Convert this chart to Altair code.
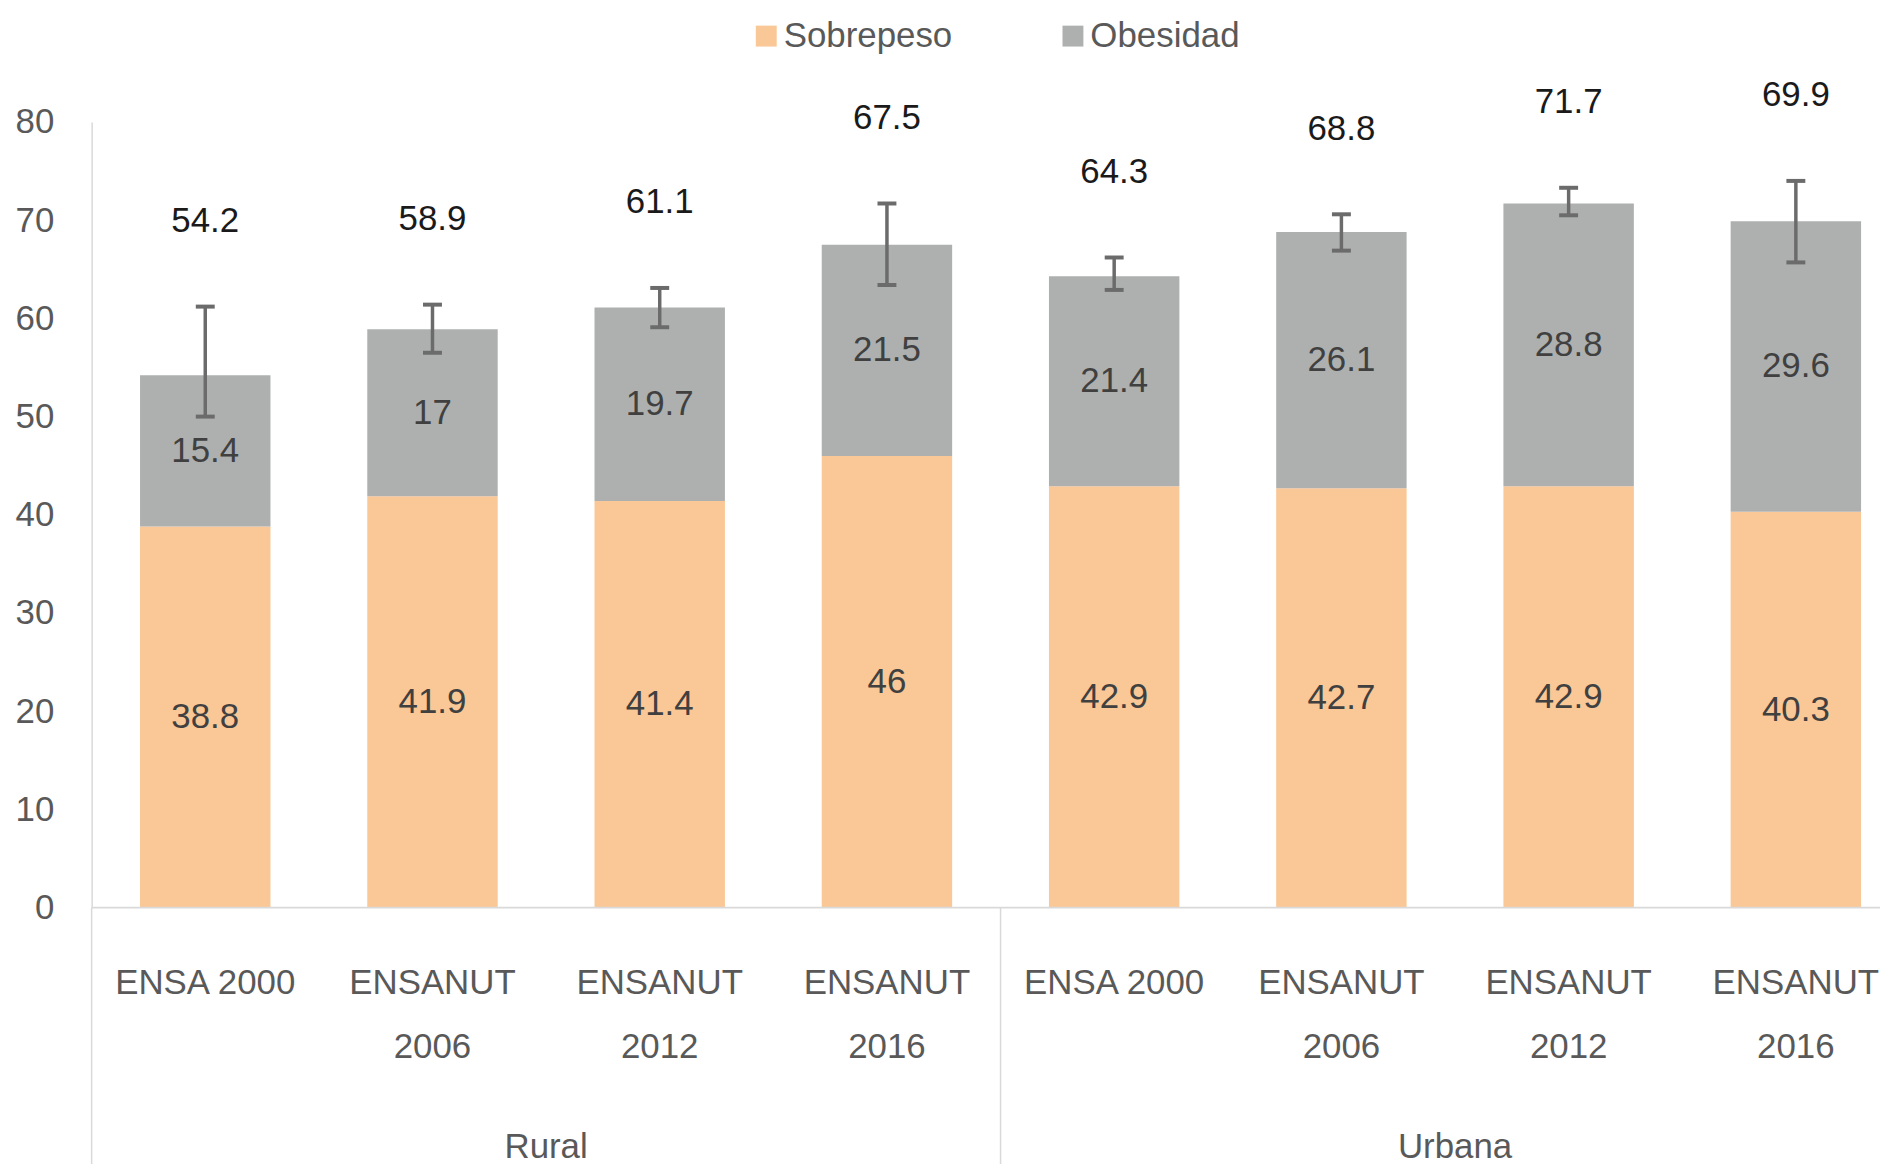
import altair as alt
import pandas as pd

# ---- data ----
keys = ["R0", "R1", "R2", "R3", "U0", "U1", "U2", "U3"]
groups = ["Rural", "Rural", "Rural", "Rural", "Urbana", "Urbana", "Urbana", "Urbana"]
line1 = ["ENSA 2000", "ENSANUT", "ENSANUT", "ENSANUT",
         "ENSA 2000", "ENSANUT", "ENSANUT", "ENSANUT"]
line2 = ["", "2006", "2012", "2016", "", "2006", "2012", "2016"]
sobrepeso = [38.8, 41.9, 41.4, 46.0, 42.9, 42.7, 42.9, 40.3]
obesidad = [15.4, 17.0, 19.7, 21.5, 21.4, 26.1, 28.8, 29.6]
totals = [54.2, 58.9, 61.1, 67.5, 64.3, 68.8, 71.7, 69.9]
err_low = [50.0, 56.5, 59.1, 63.4, 62.9, 66.9, 70.5, 65.7]
err_high = [61.2, 61.4, 63.1, 71.7, 66.2, 70.6, 73.3, 74.0]
series_names = ["Sobrepeso", "Obesidad"]
series_colors = ["#FAC796", "#AEB0AF"]
y_ticks = [0, 10, 20, 30, 40, 50, 60, 70, 80]
group_names = ["Rural", "Urbana"]
group_anchor = ["R1", "U1"]

def fmt(v):
    return f"{v:g}"

seg_rows = []
for i, k in enumerate(keys):
    s, o = sobrepeso[i], obesidad[i]
    seg_rows.append({"key": k, "series": "Sobrepeso", "order": 0,
                     "start": 0.0, "end": s, "mid": s / 2, "label": fmt(s)})
    seg_rows.append({"key": k, "series": "Obesidad", "order": 1,
                     "start": s, "end": s + o, "mid": s + o / 2, "label": fmt(o)})
df_seg = pd.DataFrame(seg_rows)

df_cat = pd.DataFrame({
    "key": keys, "group": groups, "line1": line1, "line2": line2,
    "total": totals, "total_label": [fmt(t) for t in totals],
    "lo": err_low, "hi": err_high,
})
df_grp = pd.DataFrame({"key": group_anchor, "group": group_names})
df_left = pd.DataFrame({"key": [keys[0]]})
df_sep = pd.DataFrame({"key": [keys[3], keys[7]]})
df_one = pd.DataFrame({"a": [0]})

# ---- layout ----
W, H = 1796, 789
STEP = 228.2
RANGE = STEP * len(keys)
PI = 0.426
PO = PI / 2
GAP_HALF = PI * STEP / 2          # half of the gap between two bars
OUTER = PO * STEP                 # outer padding in pixels

FONT = "Liberation Sans"
FS = 35
AXIS_GRAY = "#595959"
LINE_GRAY = "#D9D9D9"

xscale = alt.Scale(domain=keys, range=[0, RANGE], paddingInner=PI, paddingOuter=PO)
yscale = alt.Scale(domain=[0, 80], nice=False, zero=True)
yaxis = alt.Axis(values=y_ticks, ticks=False, grid=False, title=None,
                 domainColor=LINE_GRAY, domainWidth=1.5,
                 labelFont=FONT, labelFontSize=FS, labelColor=AXIS_GRAY,
                 labelPadding=38)

def X(**kw):
    return alt.X("key:N", scale=xscale, axis=None, **kw)

def Y(field):
    return alt.Y(field, scale=yscale, axis=yaxis, title=None)

bars = alt.Chart(df_seg).mark_bar(strokeWidth=0).encode(
    x=X(),
    y=Y("start:Q"),
    y2="end:Q",
    color=alt.Color("series:N",
                    scale=alt.Scale(domain=series_names, range=series_colors),
                    legend=alt.Legend(title=None, orient="none", direction="horizontal",
                                      legendX=660, legendY=-104,
                                      symbolType="square", symbolSize=441,
                                      symbolStrokeWidth=0, symbolOpacity=1,
                                      labelFont=FONT, labelFontSize=FS,
                                      labelColor=AXIS_GRAY, labelOffset=0,
                                      columnPadding=103, padding=0, labelLimit=400)),
    order=alt.Order("order:Q"),
)

seg_text = alt.Chart(df_seg).mark_text(
    font=FONT, fontSize=FS, color="#404040", baseline="middle"
).encode(x=X(), y=Y("mid:Q"), text="label:N")

err_rule = alt.Chart(df_cat).mark_rule(color="#6B6B6B", strokeWidth=3.5).encode(
    x=X(), y=Y("lo:Q"), y2="hi:Q")
cap_lo = alt.Chart(df_cat).mark_tick(color="#6B6B6B", thickness=4, size=19, opacity=1).encode(
    x=X(), y=Y("lo:Q"))
cap_hi = alt.Chart(df_cat).mark_tick(color="#6B6B6B", thickness=4, size=19, opacity=1).encode(
    x=X(), y=Y("hi:Q"))

total_text = alt.Chart(df_cat).mark_text(
    font=FONT, fontSize=FS, color="#1A1A1A", baseline="middle", dy=-86
).encode(x=X(), y=Y("hi:Q"), text="total_label:N")

cat1 = alt.Chart(df_cat).mark_text(
    font=FONT, fontSize=FS, color=AXIS_GRAY, baseline="middle"
).encode(x=X(), y=alt.value(H + 76), text="line1:N")
cat2 = alt.Chart(df_cat).mark_text(
    font=FONT, fontSize=FS, color=AXIS_GRAY, baseline="middle"
).encode(x=X(), y=alt.value(H + 140), text="line2:N")
grp_text = alt.Chart(df_grp).mark_text(
    font=FONT, fontSize=FS, color=AXIS_GRAY, baseline="middle", dx=GAP_HALF
).encode(x=X(bandPosition=1), y=alt.value(H + 240), text="group:N")

baseline = alt.Chart(df_one).mark_rule(color=LINE_GRAY, strokeWidth=2).encode(
    x=alt.value(0), x2=alt.value(RANGE), y=alt.value(H))
left_ext = alt.Chart(df_left).mark_rule(color=LINE_GRAY, strokeWidth=1.5, xOffset=-OUTER).encode(
    x=X(bandPosition=0), y=alt.value(H), y2=alt.value(H + 270))
sep = alt.Chart(df_sep).mark_rule(color=LINE_GRAY, strokeWidth=1.5, xOffset=GAP_HALF).encode(
    x=X(bandPosition=1), y=alt.value(H), y2=alt.value(H + 270))

chart = alt.layer(
    bars, seg_text, err_rule, cap_lo, cap_hi, total_text,
    baseline, left_ext, sep, cat1, cat2, grp_text,
).properties(
    width=W, height=H,
    autosize=alt.AutoSizeParams(type="none"),
    padding={"left": 84, "top": 112, "right": 0, "bottom": 255},
).configure_view(stroke=None, clip=False)

chart.save("out.html", embed_options={"renderer": "svg", "actions": False})
